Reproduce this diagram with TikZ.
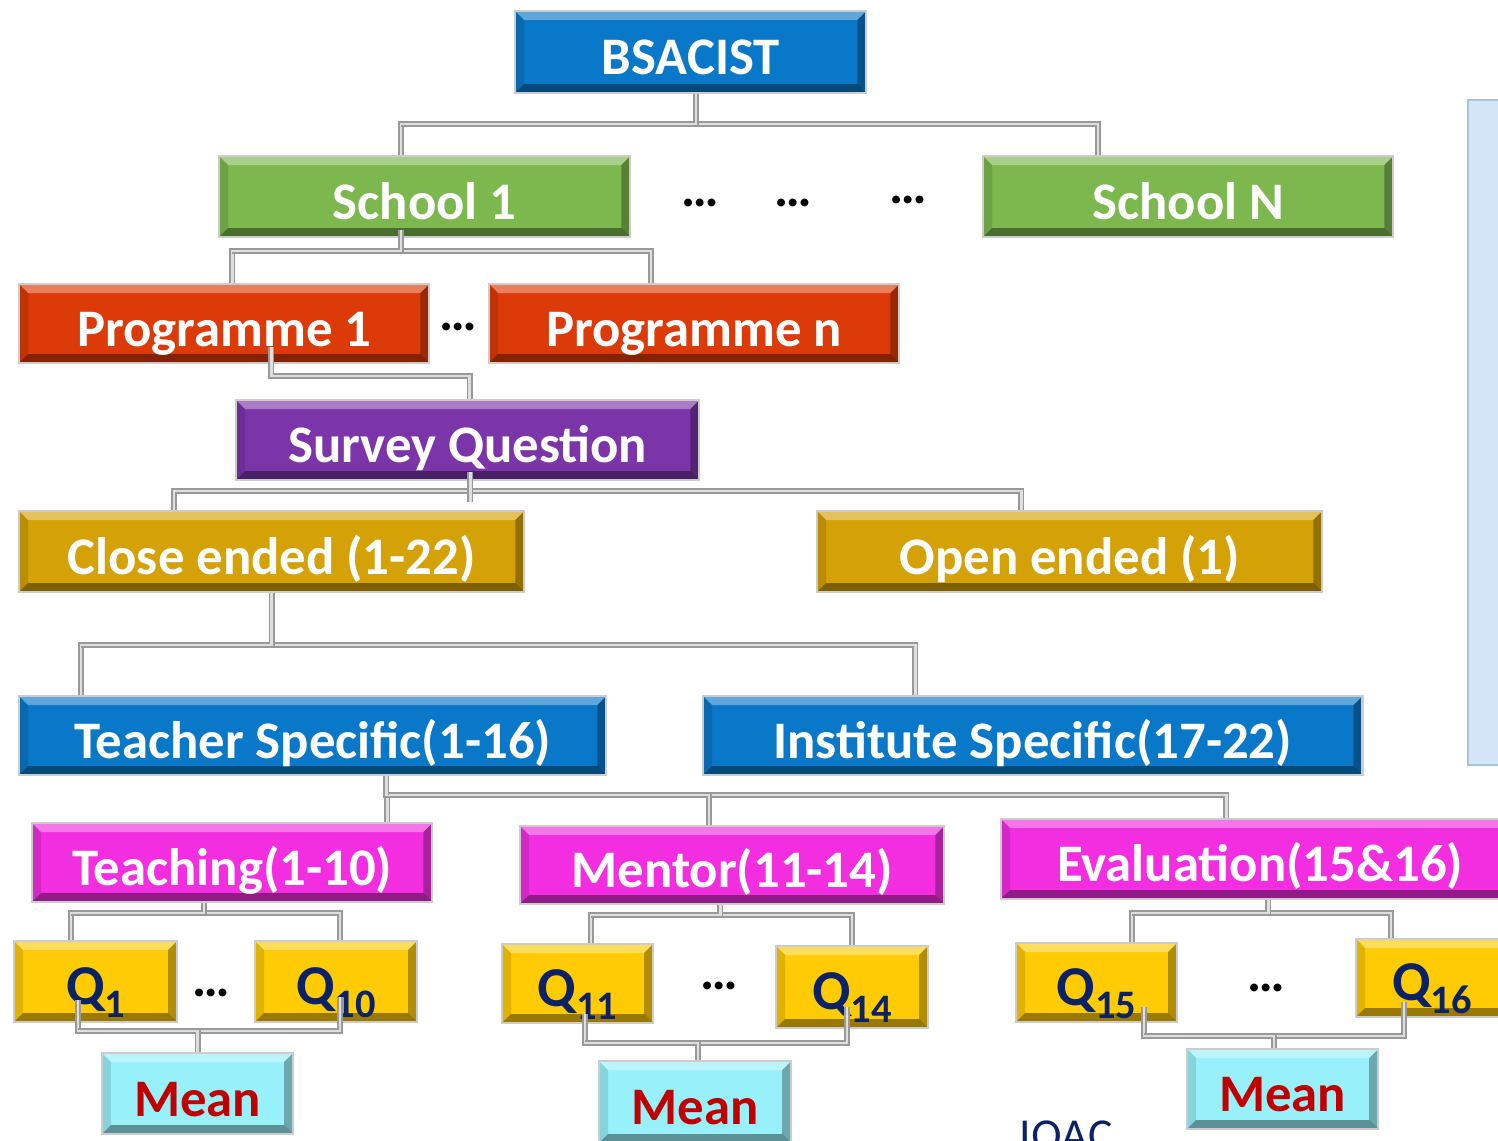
\documentclass[tikz,border=0pt]{standalone}
\usepackage{fontspec}
\setmainfont{Carlito}
\usepackage{tikz}

\definecolor{bsblue}{HTML}{0A78C8}
\definecolor{schgreen}{HTML}{7CB84E}
\definecolor{progred}{HTML}{DC3A08}
\definecolor{survpurple}{HTML}{7B35A9}
\definecolor{endgold}{HTML}{D4A106}
\definecolor{catpink}{HTML}{F22EE0}
\definecolor{qyellow}{HTML}{FFCB05}
\definecolor{meancyan}{HTML}{98F1FA}
\definecolor{qnavy}{HTML}{0C2266}
\definecolor{meanred}{HTML}{C00000}
\definecolor{panelblue}{HTML}{D5E5F8}

\newcommand{\bevw}{0.09cm}
\newcommand{\qlabel}[1]{Q\raisebox{-3.8pt}{\fontsize{11.5}{12}\selectfont #1}}

\tikzset{
  bevel/.style={fill=#1, draw=gray!40, line width=0.6pt, inner sep=0pt, anchor=north west,
    text height=0.5cm, text depth=0.05cm,
    path picture={
      \fill[white, opacity=0.35] (path picture bounding box.north west) -- (path picture bounding box.north east)
        -- ([xshift=-\bevw,yshift=-\bevw]path picture bounding box.north east) -- ([xshift=\bevw,yshift=-\bevw]path picture bounding box.north west) -- cycle;
      \fill[black, opacity=0.4] (path picture bounding box.south west) -- (path picture bounding box.south east)
        -- ([xshift=-\bevw,yshift=\bevw]path picture bounding box.south east) -- ([xshift=\bevw,yshift=\bevw]path picture bounding box.south west) -- cycle;
      \fill[black, opacity=0.3] (path picture bounding box.north east) -- (path picture bounding box.south east)
        -- ([xshift=-\bevw,yshift=\bevw]path picture bounding box.south east) -- ([xshift=-\bevw,yshift=-\bevw]path picture bounding box.north east) -- cycle;
      \fill[black, opacity=0.12] (path picture bounding box.north west) -- (path picture bounding box.south west)
        -- ([xshift=\bevw,yshift=\bevw]path picture bounding box.south west) -- ([xshift=\bevw,yshift=-\bevw]path picture bounding box.north west) -- cycle;
    }},
  lbl/.style={bevel=#1, text=white, font=\bfseries\fontsize{15}{18}\selectfont},
  qbox/.style={bevel=qyellow, text=qnavy, font=\bfseries\fontsize{16}{18}\selectfont},
  meanbox/.style={bevel=meancyan, text=meanred, font=\bfseries\fontsize{15}{18}\selectfont},
  dots/.style={font=\bfseries\fontsize{15}{18}\selectfont, inner sep=0pt},
  bar/.style={draw=gray!80, double=gray!25, line width=0.5pt, double distance=0.75pt},
}

\begin{document}
\begin{tikzpicture}[x=0.01cm, y=-0.01cm]
  \useasboundingbox (0,0) rectangle (1498,1140);
  \clip (0,0) rectangle (1498,1140);
  \fill[white] (0,0) rectangle (1498,1140);
  \draw[draw=cyan!40!gray!60, fill=panelblue, line width=0.6pt] (1468,100) rectangle (1540,765); % side panel

  % boxes
  \node[lbl=bsblue, minimum width=3.51cm, minimum height=0.82cm] (bsacist) at (514,10) {BSACIST};
  \node[lbl=schgreen, minimum width=4.11cm, minimum height=0.81cm] (school1) at (218,155) {School 1};
  \node[lbl=schgreen, minimum width=4.10cm, minimum height=0.81cm] (schoolN) at (982,155) {School N};
  \node[lbl=progred, minimum width=4.10cm, minimum height=0.79cm] (prog1) at (18,283) {Programme 1};
  \node[lbl=progred, minimum width=4.10cm, minimum height=0.79cm] (progn) at (488,283) {Programme n};
  \node[lbl=survpurple, minimum width=4.63cm, minimum height=0.80cm] (survey) at (235,399) {Survey Question};
  \node[lbl=endgold, minimum width=5.05cm, minimum height=0.81cm] (closed) at (18,510) {Close ended (1-22)};
  \node[lbl=endgold, minimum width=5.05cm, minimum height=0.81cm] (opened) at (816,510) {Open ended (1)};
  \node[lbl=bsblue, minimum width=5.87cm, minimum height=0.79cm] (teacher) at (18,695) {Teacher Specific(1-16)};
  \node[lbl=bsblue, minimum width=6.59cm, minimum height=0.79cm] (institute) at (702,695) {Institute Specific(17-22)};
  \node[lbl=catpink, minimum width=4.00cm, minimum height=0.79cm] (teaching) at (31,822) {Teaching(1-10)};
  \node[lbl=catpink, minimum width=4.24cm, minimum height=0.78cm] (mentor) at (519,825) {Mentor(11-14)};
  \node[lbl=catpink, minimum width=5.18cm, minimum height=0.80cm] (evaluation) at (1000,818) {Evaluation(15\&16)};
  \node[qbox, minimum width=1.63cm, minimum height=0.81cm] (q1) at (13,940) {\qlabel{1}};
  \node[qbox, minimum width=1.62cm, minimum height=0.81cm] (q10) at (254,940) {\qlabel{10}};
  \node[qbox, minimum width=1.51cm, minimum height=0.79cm] (q11) at (501,943) {\qlabel{11}};
  \node[qbox, minimum width=1.52cm, minimum height=0.82cm] (q14) at (775,945) {\qlabel{14}};
  \node[qbox, minimum width=1.61cm, minimum height=0.79cm] (q15) at (1015,942) {\qlabel{15}};
  \node[qbox, minimum width=1.52cm, minimum height=0.78cm] (q16) at (1355,938) {\qlabel{16}};
  \node[meanbox, minimum width=1.91cm, minimum height=0.81cm] (mean1) at (101,1052) {Mean};
  \node[meanbox, minimum width=1.92cm, minimum height=0.82cm] (mean2) at (598,1060) {Mean};
  \node[meanbox, minimum width=1.91cm, minimum height=0.80cm] (mean3) at (1186,1048) {Mean};

  % dots between boxes
  \node[dots] (dotsA) at (700,203) {…};
  \node[dots] (dotsB) at (793,203) {…};
  \node[dots] (dotsC) at (908,200) {…};
  \node[dots] (dotsD) at (458,327) {…};
  \node[dots] (dotsE) at (211,993) {…};
  \node[dots] (dotsF) at (719,986) {…};
  \node[dots] (dotsG) at (1266,988) {…};
  \node[text=qnavy, font=\fontsize{13}{15}\selectfont, anchor=base] (iqac) at (1066,1150) {IQAC}; % cut by the lower edge

  % connectors
  \draw[bar] ([xshift=-0.235cm]school1.north) -- ++(0,-31) coordinate (busA) -| ([xshift=-0.9cm]schoolN.north);
  \draw[bar] ([xshift=0.055cm]bsacist.south) |- (busA);
  \draw[bar] ([xshift=0.08cm]prog1.north) -- ++(0,-32) coordinate (busB) -| ([xshift=-0.43cm]progn.north);
  \draw[bar] ([xshift=-0.235cm,yshift=0.08cm]school1.south) |- (busB);
  \draw[bar] ([xshift=0.47cm,yshift=0.17cm]prog1.south) -- ++(0,29) -| ([xshift=0.02cm]survey.north);
  \draw[bar] ([xshift=-0.975cm]closed.north) -- ++(0,-19) coordinate (busD) -| ([xshift=-0.485cm]opened.north);
  \draw[bar] ([xshift=0.025cm,yshift=0.09cm]survey.south) -- ++(0,30);
  \draw[bar] ([xshift=-2.315cm]teacher.north) -- ++(0,-50) coordinate (busE) -| ([xshift=-1.175cm]institute.north);
  \draw[bar] (closed.south) |- (busE);
  \draw[bar] ([xshift=1.55cm]teaching.north) -- ++(0,-27) coordinate (busF) -| ([xshift=-0.34cm]evaluation.north);
  \draw[bar] ([xshift=-0.23cm]mentor.north) |- (busF);
  \draw[bar] ([xshift=0.735cm]teacher.south) |- (busF);
  \draw[bar] ([xshift=-0.245cm]q1.north) -- ++(0,-27) coordinate (busG) -| ([xshift=0.04cm]q10.north);
  \draw[bar] ([xshift=-0.28cm]teaching.south) |- (busG);
  \draw[bar] ([xshift=-0.175cm,yshift=0.23cm]q1.south) -- ++(0,31) coordinate (busH) -| ([xshift=0.04cm,yshift=0.26cm]q10.south);
  \draw[bar] (mean1.north) |- (busH);
  \draw[bar] ([xshift=0.135cm]q11.north) -- ++(0,-28) coordinate (busI) -| (q14.north);
  \draw[bar] ([xshift=-0.12cm]mentor.south) |- (busI);
  \draw[bar] ([xshift=0.075cm,yshift=0.1cm]q11.south) -- ++(0,29) coordinate (busJ) -| ([xshift=-0.05cm,yshift=0.22cm]q14.south);
  \draw[bar] ([xshift=0.03cm]mean2.north) |- (busJ);
  \draw[bar] ([xshift=0.355cm]q15.north) -- ++(0,-29) coordinate (busK) -| ([xshift=-0.41cm]q16.north);
  \draw[bar] ([xshift=0.08cm]evaluation.south) |- (busK);
  \draw[bar] ([xshift=0.475cm,yshift=0.16cm]q15.south) -- ++(0,29) coordinate (busL) -| ([xshift=-0.28cm,yshift=0.16cm]q16.south);
  \draw[bar] ([xshift=-0.085cm]mean3.north) |- (busL);
\end{tikzpicture}
\end{document}
